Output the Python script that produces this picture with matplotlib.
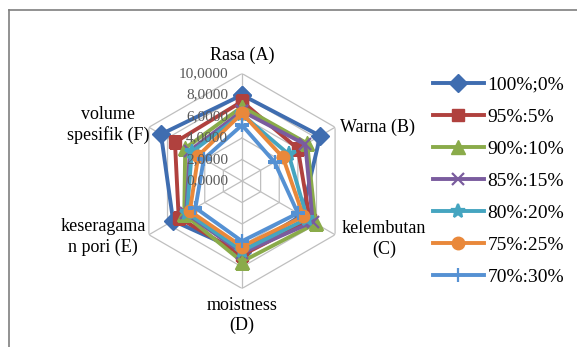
import numpy as np
import matplotlib.pyplot as plt
from matplotlib.lines import Line2D
from matplotlib.transforms import offset_copy

plt.rcParams['font.family'] = ['Liberation Serif', 'DejaVu Serif']

# sensory attributes (clockwise from top)
categories = ['Rasa (A)', 'Warna (B)', 'kelembutan\n(C)', 'moistness\n(D)',
              'keseragama\nn pori (E)', 'volume\nspesifik (F)']

# flour ratio formulations
series_names = ['100%;0%', '95%:5%', '90%:10%', '85%:15%', '80%:20%', '75%:25%', '70%:30%']
s100 = [8.0, 8.4, 6.4, 6.6, 7.4, 8.7]
s95 = [7.4, 6.0, 7.3, 6.9, 6.8, 7.2]
s90 = [6.9, 7.0, 7.9, 7.5, 6.2, 6.1]
s85 = [6.5, 6.8, 7.6, 6.7, 6.0, 5.6]
s80 = [6.2, 5.0, 7.0, 6.5, 5.9, 5.4]
s75 = [6.3, 4.4, 6.6, 6.1, 5.6, 4.7]
s70 = [5.2, 3.5, 6.0, 5.6, 5.0, 4.1]
all_series = [s100, s95, s90, s85, s80, s75, s70]

r_ticks = [0, 2, 4, 6, 8, 10]

colors = ['#3F6DB0', '#B0413E', '#8AAB4A', '#7A5C9E', '#45A5C0', '#E9883A', '#5591D3']
markers = ['D', 's', '^', 'x', '*', 'o', '+']
msizes = [9, 9, 10, 9, 10, 9, 10]

fig = plt.figure(figsize=(5.77, 3.47), dpi=100)
ax = fig.add_axes([0.2331, 0.1686, 0.3726, 0.6196], projection='polar')
ax.set_theta_zero_location('N')
ax.set_theta_direction(-1)
ax.set_ylim(0, 10)
ax.grid(False)
ax.spines['polar'].set_visible(False)
ax.set_xticks([])
ax.set_yticks([])
ax.patch.set_alpha(0)

n = len(categories)
theta = np.linspace(0, 2 * np.pi, n, endpoint=False)
theta_closed = np.append(theta, theta[0])

# hexagonal grid rings and spokes
for r in r_ticks[1:]:
    ax.plot(theta_closed, [r] * (n + 1), color='#BFBFBF', lw=0.9, zorder=1)
for t in theta:
    ax.plot([t, t], [0, 10], color='#BFBFBF', lw=0.9, zorder=1)

for vals, name, c, m, ms in zip(all_series, series_names, colors, markers, msizes):
    v = np.append(vals, vals[0])
    mew = 1.6 if m in ('x', '*', '+') else 1
    ax.plot(theta_closed, v, color=c, lw=2.8, marker=m, ms=ms, mew=mew,
            markeredgecolor=c, label=name, zorder=3)

# radial value labels left of the vertical axis
lab_tr = offset_copy(ax.transData, fig=fig, x=-14, y=0, units='dots')
for r in r_ticks:
    ax.text(0, r, f'{r},0000', transform=lab_tr, ha='right', va='center',
            fontsize=11, color='#595959', zorder=5)

# category labels around the outer ring
label_offsets = [(0, 18, 'center'), (5, 0, 'left'), (49, -4, 'center'),
                 (0, -27, 'center'), (-46, -2, 'center'), (-41, 2, 'center')]
for t, name, (dx, dy, ha) in zip(theta, categories, label_offsets):
    tr = offset_copy(ax.transData, fig=fig, x=dx, y=dy, units='dots')
    ax.text(t, 10, name, transform=tr, ha=ha, va='center', fontsize=13,
            linespacing=1.25, color='#000000')

handles, labels = ax.get_legend_handles_labels()
fig.legend(handles, labels, loc='upper left', bbox_to_anchor=(433 / 577, 1 - 76 / 347),
           frameon=False, fontsize=14, handlelength=2.6, handletextpad=0.2,
           labelspacing=0.74, borderpad=0, borderaxespad=0)

# chart area frame (left and top edges)
fig.add_artist(Line2D([9 / 577, 9 / 577], [0, 1 - 10 / 347], color='#7F7F7F', lw=1.2))
fig.add_artist(Line2D([9 / 577, 1], [1 - 10 / 347, 1 - 10 / 347], color='#7F7F7F', lw=1.2))

fig.savefig('out.png', dpi=100)
